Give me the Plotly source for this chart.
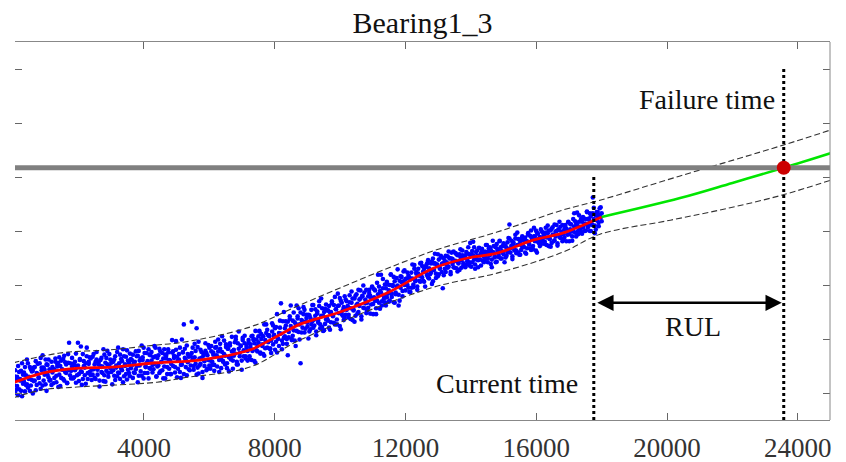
import plotly.graph_objects as go

# ---------------- data ----------------
title_text = "Bearing1_3"

scatter_t = [
    30, 60, 90, 120, 150, 180, 210, 240, 270, 300, 330, 360, 390, 420, 450, 480, 510, 540, 570, 600,
    630, 660, 690, 720, 750, 780, 810, 840, 870, 900, 930, 960, 990, 1020, 1050, 1080, 1110, 1140, 1170, 1200,
    1230, 1260, 1290, 1320, 1350, 1380, 1410, 1440, 1470, 1500, 1530, 1560, 1590, 1620, 1650, 1680, 1710, 1740, 1770, 1800,
    1830, 1860, 1890, 1920, 1950, 1980, 2010, 2040, 2070, 2100, 2130, 2160, 2190, 2220, 2250, 2280, 2310, 2340, 2370, 2400,
    2430, 2460, 2490, 2520, 2550, 2580, 2610, 2640, 2670, 2700, 2730, 2760, 2790, 2820, 2850, 2880, 2910, 2940, 2970, 3000,
    3030, 3060, 3090, 3120, 3150, 3180, 3210, 3240, 3270, 3300, 3330, 3360, 3390, 3420, 3450, 3480, 3510, 3540, 3570, 3600,
    3630, 3660, 3690, 3720, 3750, 3780, 3810, 3840, 3870, 3900, 3930, 3960, 3990, 4020, 4050, 4080, 4110, 4140, 4170, 4200,
    4230, 4260, 4290, 4320, 4350, 4380, 4410, 4440, 4470, 4500, 4530, 4560, 4590, 4620, 4650, 4680, 4710, 4740, 4770, 4800,
    4830, 4860, 4890, 4920, 4950, 4980, 5010, 5040, 5070, 5100, 5130, 5160, 5190, 5220, 5250, 5280, 5310, 5340, 5370, 5400,
    5430, 5460, 5490, 5520, 5550, 5580, 5610, 5640, 5670, 5700, 5730, 5760, 5790, 5820, 5850, 5880, 5910, 5940, 5970, 6000,
    6030, 6060, 6090, 6120, 6150, 6180, 6210, 6240, 6270, 6300, 6330, 6360, 6390, 6420, 6450, 6480, 6510, 6540, 6570, 6600,
    6630, 6660, 6690, 6720, 6750, 6780, 6810, 6840, 6870, 6900, 6930, 6960, 6990, 7020, 7050, 7080, 7110, 7140, 7170, 7200,
    7230, 7260, 7290, 7320, 7350, 7380, 7410, 7440, 7470, 7500, 7530, 7560, 7590, 7620, 7650, 7680, 7710, 7740, 7770, 7800,
    7830, 7860, 7890, 7920, 7950, 7980, 8010, 8040, 8070, 8100, 8130, 8160, 8190, 8220, 8250, 8280, 8310, 8340, 8370, 8400,
    8430, 8460, 8490, 8520, 8550, 8580, 8610, 8640, 8670, 8700, 8730, 8760, 8790, 8820, 8850, 8880, 8910, 8940, 8970, 9000,
    9030, 9060, 9090, 9120, 9150, 9180, 9210, 9240, 9270, 9300, 9330, 9360, 9390, 9420, 9450, 9480, 9510, 9540, 9570, 9600,
    9630, 9660, 9690, 9720, 9750, 9780, 9810, 9840, 9870, 9900, 9930, 9960, 9990, 10020, 10050, 10080, 10110, 10140, 10170, 10200,
    10230, 10260, 10290, 10320, 10350, 10380, 10410, 10440, 10470, 10500, 10530, 10560, 10590, 10620, 10650, 10680, 10710, 10740, 10770, 10800,
    10830, 10860, 10890, 10920, 10950, 10980, 11010, 11040, 11070, 11100, 11130, 11160, 11190, 11220, 11250, 11280, 11310, 11340, 11370, 11400,
    11430, 11460, 11490, 11520, 11550, 11580, 11610, 11640, 11670, 11700, 11730, 11760, 11790, 11820, 11850, 11880, 11910, 11940, 11970, 12000,
    12030, 12060, 12090, 12120, 12150, 12180, 12210, 12240, 12270, 12300, 12330, 12360, 12390, 12420, 12450, 12480, 12510, 12540, 12570, 12600,
    12630, 12660, 12690, 12720, 12750, 12780, 12810, 12840, 12870, 12900, 12930, 12960, 12990, 13020, 13050, 13080, 13110, 13140, 13170, 13200,
    13230, 13260, 13290, 13320, 13350, 13380, 13410, 13440, 13470, 13500, 13530, 13560, 13590, 13620, 13650, 13680, 13710, 13740, 13770, 13800,
    13830, 13860, 13890, 13920, 13950, 13980, 14010, 14040, 14070, 14100, 14130, 14160, 14190, 14220, 14250, 14280, 14310, 14340, 14370, 14400,
    14430, 14460, 14490, 14520, 14550, 14580, 14610, 14640, 14670, 14700, 14730, 14760, 14790, 14820, 14850, 14880, 14910, 14940, 14970, 15000,
    15030, 15060, 15090, 15120, 15150, 15180, 15210, 15240, 15270, 15300, 15330, 15360, 15390, 15420, 15450, 15480, 15510, 15540, 15570, 15600,
    15630, 15660, 15690, 15720, 15750, 15780, 15810, 15840, 15870, 15900, 15930, 15960, 15990, 16020, 16050, 16080, 16110, 16140, 16170, 16200,
    16230, 16260, 16290, 16320, 16350, 16380, 16410, 16440, 16470, 16500, 16530, 16560, 16590, 16620, 16650, 16680, 16710, 16740, 16770, 16800,
    16830, 16860, 16890, 16920, 16950, 16980, 17010, 17040, 17070, 17100, 17130, 17160, 17190, 17220, 17250, 17280, 17310, 17340, 17370, 17400,
    17430, 17460, 17490, 17520, 17550, 17580, 17610, 17640, 17670, 17700, 17730, 17760, 17790, 17820, 17850, 17880, 17910, 17940, 17970, 18000,
]

# health indicator, first reading at each time
scatter_v = [
    1.31, 1.00, 1.25, 1.13, 1.50, 1.07, 1.23, 1.41, 0.94, 1.34, 1.21, 1.48, 1.15, 1.62, 1.10, 1.30, 1.04, 1.44, 1.24, 1.41,
    1.22, 1.48, 1.05, 1.37, 1.54, 1.29, 1.18, 1.65, 1.42, 1.14, 1.47, 1.34, 1.62, 1.04, 1.52, 1.29, 1.44, 1.24, 1.58, 1.38,
    1.43, 1.28, 1.64, 1.20, 1.49, 1.56, 1.34, 1.13, 1.60, 1.43, 1.26, 1.69, 1.39, 1.53, 1.19, 1.56, 1.93, 1.33, 1.41, 1.65,
    1.27, 1.52, 1.58, 1.19, 1.47, 1.93, 1.35, 1.61, 1.40, 1.15, 1.72, 1.50, 1.33, 1.55, 1.84, 1.26, 1.58, 1.39, 1.64, 1.24,
    1.67, 1.44, 1.28, 1.58, 1.76, 1.34, 1.53, 1.23, 1.61, 1.39, 1.49, 1.81, 1.33, 1.21, 1.65, 1.53, 1.37, 1.72, 1.46, 1.56,
    1.58, 1.42, 1.62, 1.24, 1.51, 1.31, 1.84, 1.37, 1.71, 1.46, 1.59, 1.20, 1.68, 1.50, 1.35, 1.79, 1.43, 1.56, 1.31, 1.63,
    1.51, 1.71, 1.38, 1.58, 1.44, 1.68, 1.20, 1.78, 1.51, 1.64, 1.32, 1.61, 1.84, 1.37, 1.49, 1.74, 1.59, 1.27, 1.71, 1.45,
    1.76, 1.52, 1.44, 1.87, 1.68, 1.31, 1.65, 1.51, 1.82, 1.40, 1.57, 1.74, 1.27, 1.49, 1.71, 1.64, 1.35, 1.81, 1.45, 1.60,
    1.35, 1.75, 1.50, 1.69, 1.38, 1.96, 1.67, 1.45, 1.62, 1.84, 1.28, 1.53, 1.75, 2.27, 1.82, 1.61, 1.33, 1.72, 1.67, 1.42,
    1.68, 2.32, 1.84, 1.50, 1.66, 1.78, 1.34, 1.47, 1.95, 1.64, 1.54, 1.76, 1.39, 1.69, 1.50, 1.92, 1.74, 1.45, 1.61, 1.84,
    1.45, 1.77, 1.58, 1.71, 1.52, 1.95, 1.85, 1.68, 1.77, 1.39, 1.91, 1.65, 2.05, 1.58, 1.72, 1.53, 1.85, 1.46, 1.82, 1.66,
    1.88, 1.62, 1.77, 1.45, 1.69, 1.94, 2.04, 1.58, 1.53, 1.82, 1.74, 1.87, 1.43, 2.02, 1.68, 1.92, 1.64, 1.84, 1.78, 1.98,
    1.68, 1.84, 1.61, 2.06, 1.98, 1.92, 1.56, 1.79, 1.87, 2.05, 2.15, 1.73, 2.00, 1.87, 2.05, 1.69, 1.83, 2.27, 2.17, 1.94,
    2.05, 1.81, 1.74, 2.14, 2.25, 2.05, 2.20, 1.95, 1.75, 2.01, 2.11, 2.34, 2.66, 1.97, 1.91, 2.50, 2.05, 2.25, 1.91, 2.32,
    2.13, 2.37, 2.62, 2.00, 2.06, 2.49, 1.97, 2.28, 2.15, 2.38, 2.57, 2.27, 1.55, 2.12, 2.33, 2.46, 2.54, 2.19, 2.39, 2.30,
    2.45, 2.14, 2.39, 2.27, 2.63, 2.21, 2.36, 2.55, 2.07, 2.47, 2.34, 2.61, 2.27, 2.75, 2.22, 2.43, 2.16, 2.56, 2.36, 2.53,
    2.34, 2.61, 2.17, 2.50, 2.66, 2.42, 2.30, 2.78, 2.55, 2.27, 2.61, 2.48, 2.76, 2.18, 2.67, 2.43, 2.59, 2.39, 2.73, 2.54,
    2.59, 2.45, 2.81, 2.37, 2.67, 2.75, 2.53, 2.32, 2.80, 2.63, 2.47, 2.91, 2.61, 2.75, 2.42, 2.80, 2.99, 2.57, 2.66, 2.91,
    2.53, 2.79, 2.85, 2.47, 2.76, 2.97, 2.65, 2.92, 2.71, 2.46, 3.04, 2.83, 2.67, 2.89, 3.19, 2.62, 2.94, 2.75, 3.01, 2.62,
    3.06, 2.84, 2.69, 3.00, 3.19, 2.78, 2.98, 2.68, 3.07, 2.86, 2.97, 3.29, 2.82, 2.71, 3.16, 3.05, 2.89, 3.25, 3.00, 3.11,
    3.12, 3.00, 3.17, 2.87, 3.10, 2.95, 3.38, 3.01, 3.30, 3.10, 3.21, 2.91, 3.30, 3.17, 3.06, 3.41, 3.14, 3.25, 3.06, 3.33,
    3.23, 3.40, 3.14, 3.31, 3.20, 3.40, 3.02, 3.49, 3.28, 3.40, 3.13, 3.38, 3.57, 3.20, 3.30, 3.51, 3.39, 2.94, 3.50, 3.30,
    3.54, 3.37, 3.32, 3.62, 3.50, 3.24, 3.49, 3.39, 3.62, 3.32, 3.45, 3.57, 3.25, 3.40, 3.57, 3.52, 3.32, 3.64, 3.40, 3.50,
    3.33, 3.61, 3.44, 3.58, 3.36, 3.78, 3.57, 3.42, 3.55, 3.70, 3.30, 3.48, 3.64, 3.46, 3.69, 3.55, 3.36, 3.63, 3.60, 3.42,
    3.62, 3.55, 3.74, 3.49, 3.61, 3.70, 3.39, 3.47, 3.82, 3.60, 3.53, 3.70, 3.43, 3.64, 3.52, 3.81, 3.70, 3.49, 3.60, 3.77,
    3.72, 3.51, 3.69, 3.60, 3.87, 4.12, 3.68, 3.82, 3.48, 3.76, 3.67, 3.86, 3.64, 3.97, 3.60, 3.75, 3.56, 3.85, 3.71, 3.83,
    3.70, 3.88, 3.58, 3.81, 3.93, 3.75, 3.68, 4.01, 3.86, 3.66, 3.90, 3.81, 4.01, 3.60, 3.95, 3.78, 3.89, 3.75, 3.99, 3.86,
    3.90, 3.80, 4.06, 3.74, 3.96, 4.01, 3.85, 3.71, 4.04, 3.93, 3.81, 4.12, 3.90, 4.00, 3.77, 4.03, 4.17, 3.87, 3.94, 4.11,
    3.84, 4.03, 4.07, 3.81, 4.01, 4.17, 3.94, 4.13, 3.99, 3.82, 4.22, 4.08, 3.97, 4.13, 4.34, 3.94, 4.17, 4.04, 4.22, 3.95,
    4.26, 4.11, 4.00, 4.22, 4.35, 4.07, 4.21, 4.00, 4.28, 4.13, 4.62, 4.43, 4.10, 4.03, 4.35, 4.28, 4.16, 4.42, 4.25, 4.33,
]

# health indicator, second reading at each time
scatter_v2 = [
    1.14, 1.42, 1.06, 1.30, 0.96, 1.39, 1.26, 1.04, 1.55, 1.17, 1.38, 1.03, 1.33, 1.16, 1.55, 1.26, 1.48, 1.14, 1.40, 0.99,
    1.47, 1.23, 1.59, 1.15, 1.35, 1.28, 1.55, 1.08, 1.47, 1.70, 1.23, 1.43, 1.16, 1.53, 1.34, 1.62, 1.23, 1.42, 1.15, 1.48,
    1.18, 1.44, 1.58, 1.32, 1.53, 1.11, 1.66, 1.50, 1.28, 1.44, 1.63, 1.23, 1.57, 1.37, 1.18, 1.72, 1.42, 1.55, 1.27, 1.49,
    1.54, 1.29, 1.42, 1.73, 1.33, 1.51, 1.22, 1.63, 1.86, 1.39, 1.26, 1.59, 1.47, 1.17, 1.68, 1.37, 1.54, 1.66, 1.33, 1.43,
    1.34, 1.72, 1.53, 1.26, 1.62, 1.43, 1.57, 1.12, 1.50, 1.65, 1.37, 1.22, 1.71, 1.56, 1.41, 1.78, 1.30, 1.50, 1.62, 1.39,
    1.16, 1.58, 1.32, 1.68, 1.47, 1.76, 1.38, 1.55, 1.26, 1.63, 1.42, 1.81, 1.31, 1.53, 1.67, 1.25, 1.60, 1.37, 1.73, 1.46,
    1.61, 1.28, 1.56, 1.37, 1.77, 1.50, 1.69, 1.32, 1.60, 1.40, 1.88, 1.66, 1.27, 1.74, 1.48, 1.55, 1.37, 1.81, 1.46, 1.70,
    1.60, 1.38, 1.66, 1.54, 1.84, 1.30, 1.49, 1.70, 1.37, 1.77, 1.58, 1.42, 1.64, 1.81, 1.27, 1.69, 1.48, 1.75, 1.61, 1.35,
    1.54, 1.98, 1.77, 1.65, 1.48, 1.80, 1.29, 1.60, 1.72, 1.39, 1.52, 1.99, 1.76, 1.35, 1.65, 1.48, 1.88, 1.57, 1.44, 1.69,
    1.51, 1.74, 1.62, 1.43, 1.91, 1.54, 2.20, 1.85, 1.36, 1.51, 1.80, 1.65, 1.28, 1.73, 1.59, 1.78, 1.42, 1.70, 1.89, 1.51,
    1.60, 1.87, 1.52, 1.75, 1.41, 1.84, 1.70, 1.49, 1.99, 1.61, 1.82, 1.46, 1.76, 1.59, 1.97, 1.69, 1.90, 1.55, 1.82, 1.40,
    1.92, 1.68, 2.04, 1.60, 1.80, 1.73, 1.99, 1.53, 1.92, 2.14, 1.68, 1.88, 1.60, 1.98, 1.79, 2.06, 1.68, 1.87, 1.60, 1.93,
    1.63, 1.90, 2.05, 1.78, 2.00, 1.59, 2.15, 1.99, 1.77, 1.94, 2.14, 1.75, 2.09, 1.90, 1.72, 2.27, 1.98, 2.11, 1.84, 2.07,
    2.07, 1.83, 1.97, 2.29, 1.90, 2.08, 1.80, 2.22, 2.46, 2.00, 1.87, 2.21, 2.10, 1.81, 2.33, 2.02, 2.20, 2.33, 2.00, 1.70,
    2.03, 2.42, 2.24, 1.98, 2.34, 2.16, 2.31, 1.87, 2.62, 2.42, 2.13, 1.99, 2.49, 2.35, 2.21, 2.59, 2.12, 2.32, 2.45, 2.23,
    2.01, 2.44, 2.18, 2.54, 2.33, 2.63, 2.25, 2.43, 2.14, 2.51, 2.30, 2.70, 2.20, 2.43, 2.57, 2.15, 2.50, 2.28, 2.64, 2.38,
    2.53, 2.21, 2.49, 2.31, 2.70, 2.44, 2.63, 2.27, 2.55, 2.36, 2.84, 2.62, 2.24, 2.71, 2.46, 2.53, 2.35, 2.79, 2.45, 2.70,
    2.61, 2.40, 2.68, 2.57, 2.88, 2.35, 2.54, 2.75, 2.43, 2.83, 2.65, 2.50, 2.73, 2.90, 2.36, 2.79, 2.58, 2.86, 2.73, 2.48,
    2.67, 2.58, 2.91, 2.80, 2.64, 2.96, 2.46, 2.77, 2.90, 2.57, 2.71, 3.19, 2.97, 2.56, 2.86, 2.70, 3.11, 2.80, 2.68, 2.94,
    2.77, 3.01, 2.90, 2.71, 3.20, 2.84, 3.00, 3.15, 2.67, 2.83, 3.13, 2.99, 2.62, 3.08, 2.95, 3.15, 2.79, 3.07, 3.27, 2.90,
    3.00, 3.23, 2.95, 3.14, 2.87, 3.23, 3.12, 2.96, 3.37, 3.07, 3.24, 2.97, 3.21, 3.08, 3.40, 3.17, 3.35, 3.08, 3.30, 2.97,
    3.36, 3.18, 3.46, 3.12, 3.28, 3.23, 3.44, 3.07, 3.40, 3.58, 3.21, 3.38, 3.16, 3.47, 3.32, 3.54, 3.24, 3.40, 3.18, 3.45,
    3.24, 3.42, 3.53, 3.34, 3.49, 3.20, 3.60, 3.48, 3.33, 3.44, 3.59, 3.31, 3.55, 3.41, 3.28, 3.66, 3.46, 3.55, 3.36, 3.52,
    3.55, 3.38, 3.48, 3.70, 3.42, 3.55, 3.34, 3.63, 3.80, 3.47, 3.38, 3.61, 3.54, 3.33, 3.68, 3.47, 3.59, 3.67, 3.45, 3.52,
    3.47, 3.74, 3.61, 3.42, 3.68, 3.55, 3.65, 3.33, 3.61, 3.72, 3.51, 3.42, 3.76, 3.66, 3.56, 3.82, 3.49, 3.63, 3.72, 3.57,
    3.42, 3.72, 3.54, 3.79, 3.66, 3.86, 3.60, 3.73, 3.53, 3.79, 3.64, 3.93, 3.59, 3.74, 3.85, 3.56, 3.80, 3.65, 3.90, 3.72,
    3.83, 3.60, 3.81, 3.68, 3.96, 3.77, 3.91, 3.65, 3.86, 3.72, 4.06, 3.90, 3.64, 3.97, 3.80, 3.85, 3.72, 4.03, 3.80, 3.97,
    3.92, 3.76, 3.97, 3.88, 4.10, 3.72, 3.86, 4.01, 3.78, 4.07, 3.93, 3.83, 3.99, 4.11, 3.73, 4.02, 3.89, 4.08, 3.99, 3.81,
    3.94, 3.88, 4.11, 4.04, 3.93, 4.16, 3.81, 4.03, 4.12, 3.90, 3.99, 4.33, 4.18, 3.90, 4.11, 4.00, 4.29, 4.08, 3.99, 4.17,
    4.06, 4.23, 4.14, 4.01, 4.36, 4.11, 4.23, 4.33, 4.00, 4.11, 4.33, 4.22, 3.96, 4.29, 4.20, 4.35, 4.09, 4.29, 4.44, 4.18,
]

fit_t = [0, 900, 2000, 3000, 4400, 5700, 7250, 8000, 8800, 10000, 11500, 12850, 13900, 14800, 15900, 16800, 18000]
fit_v = [1.19, 1.37, 1.46, 1.48, 1.56, 1.61, 1.80, 2.03, 2.28, 2.50, 2.87, 3.31, 3.50, 3.59, 3.83, 3.96, 4.26]

pred_t = [18000, 20400, 22000, 23570, 25000]
pred_v = [4.26, 4.61, 4.89, 5.17, 5.44]

upper_t = [0, 1430, 2960, 4400, 5200, 7240, 8770, 12750, 14800, 16820, 17950, 20400, 23550, 25000]
upper_v = [1.56, 1.74, 1.80, 1.89, 1.94, 2.22, 2.63, 3.61, 3.98, 4.39, 4.57, 5.02, 5.59, 5.87]

lower_t = [0, 900, 1950, 4400, 5200, 7240, 8770, 12750, 14800, 16820, 17950, 20100, 21930, 23550, 25000]
lower_v = [0.91, 1.06, 1.11, 1.20, 1.28, 1.48, 1.98, 2.94, 3.22, 3.61, 3.94, 4.20, 4.43, 4.67, 4.94]

threshold_v = 5.17
current_t = 17760
failure_t = 23570
current_line_top = 5.0
failure_line_top = 7.0
rul_arrow_v = 2.67

x_tickvals = [4000, 8000, 12000, 16000, 20000, 24000]
x_ticktext = ["4000", "8000", "12000", "16000", "20000", "24000"]
y_tickvals = [1, 2, 3, 4, 5, 6, 7]

x_range = [55, 24985]
y_range = [0.5, 7.5]

# ---------------- figure ----------------
SERIF = "Liberation Serif, Times New Roman, serif"
fig = go.Figure()

dot_style = dict(color="#0000ff", size=4.6, line=dict(width=0))
fig.add_trace(go.Scatter(x=scatter_t, y=scatter_v, mode="markers", marker=dot_style,
                         showlegend=False, hoverinfo="skip"))
fig.add_trace(go.Scatter(x=scatter_t, y=scatter_v2, mode="markers", marker=dot_style,
                         showlegend=False, hoverinfo="skip"))
fig.add_trace(go.Scatter(x=upper_t, y=upper_v, mode="lines", line_shape="spline",
                         line=dict(color="#333333", width=1.1, dash="6px,3px"), showlegend=False))
fig.add_trace(go.Scatter(x=lower_t, y=lower_v, mode="lines", line_shape="spline",
                         line=dict(color="#333333", width=1.1, dash="6px,3px"), showlegend=False))
fig.add_trace(go.Scatter(x=fit_t, y=fit_v, mode="lines", line_shape="spline",
                         line=dict(color="#ff0000", width=2.8), showlegend=False))
fig.add_trace(go.Scatter(x=pred_t, y=pred_v, mode="lines", line_shape="spline",
                         line=dict(color="#00e600", width=2.6), showlegend=False))
fig.add_trace(go.Scatter(x=[x_range[0], x_range[1]], y=[threshold_v, threshold_v], mode="lines",
                         line=dict(color="#808080", width=5), showlegend=False))
fig.add_trace(go.Scatter(x=[current_t, current_t], y=[y_range[0], current_line_top], mode="lines",
                         line=dict(color="#000000", width=3, dash="3px,3px"), showlegend=False))
fig.add_trace(go.Scatter(x=[failure_t, failure_t], y=[y_range[0], failure_line_top], mode="lines",
                         line=dict(color="#000000", width=3, dash="3px,3px"), showlegend=False))
fig.add_trace(go.Scatter(x=[failure_t], y=[threshold_v], mode="markers",
                         marker=dict(color="#cc0000", size=14), showlegend=False))

# RUL double arrow
fig.add_annotation(x=failure_t, y=rul_arrow_v, ax=current_t, ay=rul_arrow_v,
                   xref="x", yref="y", axref="x", ayref="y", text="",
                   showarrow=True, arrowhead=2, startarrowhead=2, arrowside="end+start",
                   arrowsize=1.3, arrowwidth=2.5, arrowcolor="#000000",
                   standoff=2, startstandoff=2)

txt_font = dict(family=SERIF, size=28, color="#111111")
fig.add_annotation(x=20800, y=2.23, xref="x", yref="y", text="RUL", showarrow=False,
                   font=txt_font, xanchor="center", yanchor="middle")
fig.add_annotation(x=17330, y=1.18, xref="x", yref="y", text="Current time", showarrow=False,
                   font=txt_font, xanchor="right", yanchor="middle")
fig.add_annotation(x=23355, y=6.43, xref="x", yref="y", text="Failure time", showarrow=False,
                   font=txt_font, xanchor="right", yanchor="middle")

# right frame border (left border is off-picture in the reference)
fig.add_shape(type="line", xref="paper", yref="paper", x0=1, x1=1, y0=0, y1=1,
              line=dict(color="#888888", width=1))

fig.update_layout(
    width=846, height=462,
    margin=dict(l=15, r=16, t=42, b=42, autoexpand=False),
    paper_bgcolor="white", plot_bgcolor="white",
    title=dict(text=title_text, x=0.5, xref="paper", xanchor="center",
               y=1 - 22 / 462, yref="container", yanchor="middle",
               font=dict(family=SERIF, size=30, color="#111111")),
    xaxis=dict(range=x_range, tickvals=x_tickvals, ticktext=x_ticktext,
               ticks="inside", ticklen=7, tickwidth=1, tickcolor="#666666",
               mirror="ticks", showline=True, linecolor="#888888", linewidth=1,
               showgrid=False, zeroline=False, automargin=False, ticklabelstandoff=4,
               tickfont=dict(family=SERIF, size=27, color="#333333")),
    yaxis=dict(range=y_range, tickvals=y_tickvals, showticklabels=False,
               ticks="inside", ticklen=7, tickwidth=1, tickcolor="#666666",
               mirror="ticks", showline=False, automargin=False,
               showgrid=False, zeroline=False),
)

# remove the page's default body margin so the figure fills the window exactly
fig.write_html("out.html", config={"displayModeBar": False},
               post_script="document.body.style.margin='0';document.body.style.overflow='hidden';")
